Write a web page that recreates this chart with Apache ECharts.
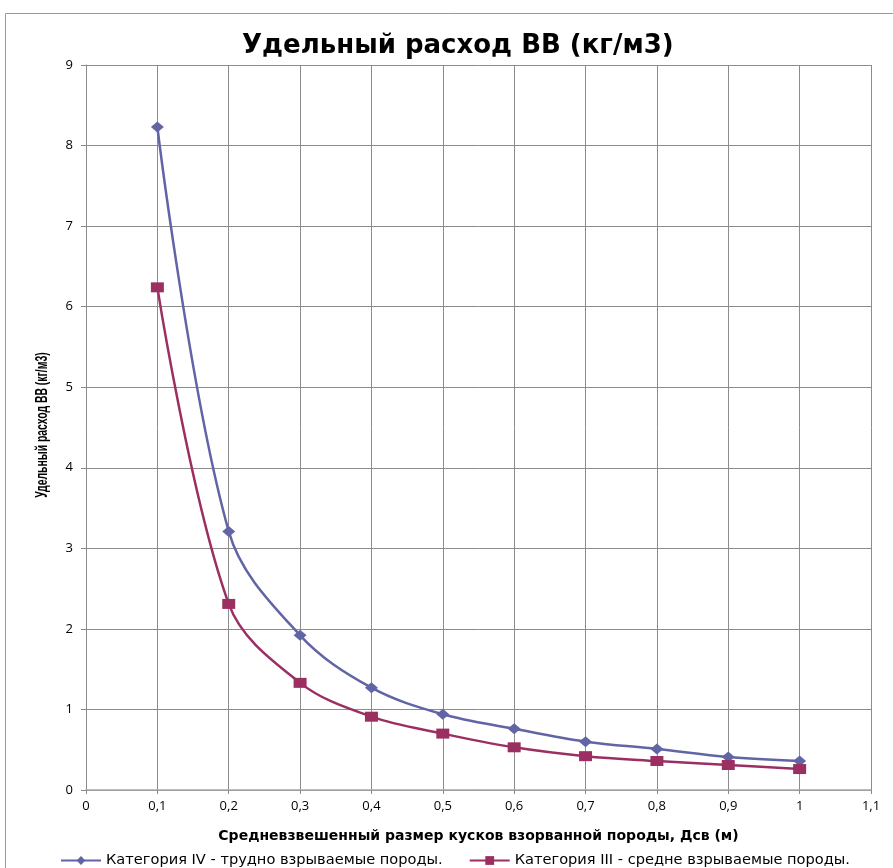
<!DOCTYPE html>
<html>
<head>
<meta charset="utf-8">
<script src="https://cdn.jsdelivr.net/npm/echarts@6/dist/echarts.min.js"></script>
<style>
  html, body { margin: 0; padding: 0; background: #fff; }
  #chart { width: 893px; height: 868px; }
</style>
</head>
<body>
<div id="chart"></div>
<script>
// Fragment size (m)
const sizes = [0.1, 0.2, 0.3, 0.4, 0.5, 0.6, 0.7, 0.8, 0.9, 1.0];
// Specific explosive consumption, kg/m3
const catIV = [8.23, 3.21, 1.92, 1.27, 0.94, 0.76, 0.60, 0.51, 0.41, 0.36];
const catIII = [6.24, 2.31, 1.33, 0.91, 0.70, 0.53, 0.42, 0.36, 0.31, 0.26];
const nameIV = 'Категория IV - трудно взрываемые породы.';
const nameIII = 'Категория III - средне взрываемые породы.';
const titleText = 'Удельный расход ВВ (кг/м3)';
const xName = 'Средневзвешенный размер кусков взорванной породы, Дсв (м)';
const yName = 'Удельный расход ВВ (кг/м3)';

const font = '"Open Sans", "DejaVu Sans", sans-serif';
const wideFont = '"DejaVu Sans", sans-serif';
const colIV = '#6164A5';
const colIII = '#9C2F62';

const chart = echarts.init(document.getElementById('chart'));
chart.setOption({
  animation: false,
  backgroundColor: '#fff',
  graphic: [
    {
      type: 'rect',
      shape: { x: 5.5, y: 13.5, width: 900, height: 900 },
      style: { fill: 'none', stroke: '#9a9a9a', lineWidth: 1 },
      silent: true
    },
    {
      // condensed vertical axis title
      type: 'text',
      x: 43, y: 425,
      rotation: Math.PI / 2,
      scaleX: 0.65,
      style: {
        text: yName,
        font: 'bold 16px "Liberation Sans", sans-serif',
        fill: '#000',
        align: 'center',
        verticalAlign: 'middle'
      },
      silent: true
    }
  ],
  title: {
    text: titleText,
    left: 237,
    top: 28,
    textStyle: { fontFamily: wideFont, fontSize: 26, fontWeight: 'bold', color: '#000' }
  },
  legend: {
    top: 848,
    left: 55,
    itemGap: 26,
    itemWidth: 40,
    itemHeight: 11,
    textStyle: { fontFamily: wideFont, fontSize: 14.6, color: '#000' },
    data: [nameIV, nameIII]
  },
  grid: { left: 86, right: 22, top: 65, bottom: 78, containLabel: false },
  xAxis: {
    type: 'value',
    min: 0, max: 1.1, interval: 0.1,
    name: xName,
    nameLocation: 'middle',
    nameGap: 39,
    nameTextStyle: { fontFamily: wideFont, fontSize: 14, fontWeight: 'bold', color: '#000' },
    axisLine: { lineStyle: { color: '#a8a8a8', width: 1.5 } },
    axisTick: { show: true, length: 4, lineStyle: { color: '#888' } },
    axisLabel: {
      fontFamily: font, fontSize: 13, color: '#000', margin: 10,
      formatter: v => String(Math.round(v * 10) / 10).replace('.', ',')
    },
    splitLine: { show: true, lineStyle: { color: '#8c8c8c', width: 1 } }
  },
  yAxis: {
    type: 'value',
    min: 0, max: 9, interval: 1,
    axisLine: { show: true, lineStyle: { color: '#8c8c8c', width: 1 } },
    axisTick: { show: true, length: 5, lineStyle: { color: '#888' } },
    axisLabel: { fontFamily: font, fontSize: 13, color: '#000', margin: 13 },
    splitLine: { show: true, lineStyle: { color: '#8c8c8c', width: 1 } }
  },
  series: [
    {
      name: nameIV,
      type: 'line',
      smooth: 0.35,
      data: sizes.map((x, i) => [x, catIV[i]]),
      symbol: 'diamond',
      symbolSize: [13, 11],
      lineStyle: { color: colIV, width: 2.5 },
      itemStyle: { color: colIV }
    },
    {
      name: nameIII,
      type: 'line',
      smooth: 0.35,
      data: sizes.map((x, i) => [x, catIII[i]]),
      symbol: 'rect',
      symbolSize: [13, 10],
      lineStyle: { color: colIII, width: 2.5 },
      itemStyle: { color: colIII }
    }
  ]
});
</script>
</body>
</html>
